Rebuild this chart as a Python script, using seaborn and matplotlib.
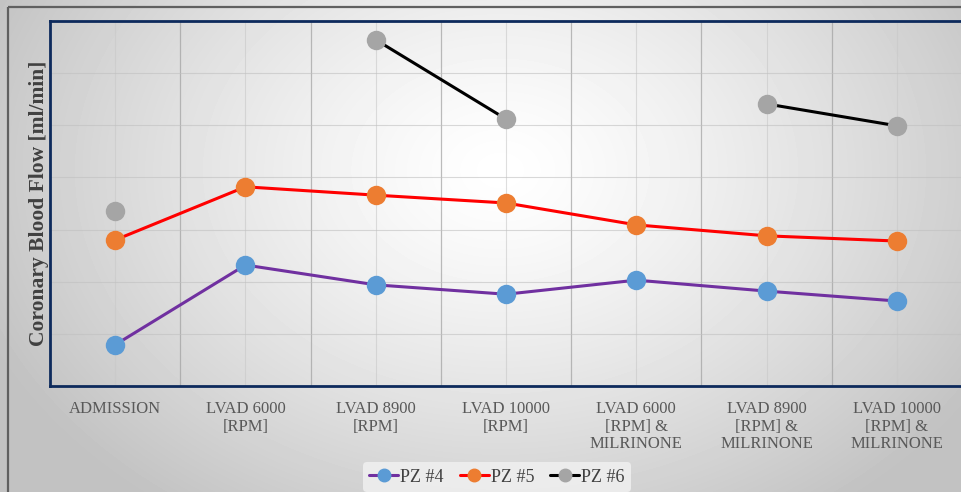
import numpy as np
import pandas as pd
import matplotlib
matplotlib.use("Agg")
import matplotlib.pyplot as plt
from matplotlib.patches import Rectangle
import seaborn as sns

# Measurement stages
categories = [
    "ADMISSION",
    "LVAD 6000\n[RPM]",
    "LVAD 8900\n[RPM]",
    "LVAD 10000\n[RPM]",
    "LVAD 6000\n[RPM] &\nMILRINONE",
    "LVAD 8900\n[RPM] &\nMILRINONE",
    "LVAD 10000\n[RPM] &\nMILRINONE",
]

# Coronary blood flow per patient (NaN = not measured)
pz4 = [7.9, 23.2, 19.4, 17.6, 20.3, 18.2, 16.3]
pz5 = [28.0, 38.2, 36.6, 35.1, 30.9, 28.8, 27.8]
pz6 = [33.6, np.nan, 66.4, 51.2, np.nan, 54.1, 49.9]

series_names = ["PZ #4", "PZ #5", "PZ #6"]
series_values = [pz4, pz5, pz6]
line_colors = ["#7030a0", "#ff0000", "#000000"]
marker_colors = ["#5b9bd5", "#ed7d31", "#a5a5a5"]

y_max = 70
y_step = 10

sns.set_theme(style="white")
plt.rcParams["font.family"] = ["Liberation Serif", "DejaVu Serif"]

W, H = 962, 492
fig = plt.figure(figsize=(W / 100, H / 100), dpi=100)

# Radial grey background behind everything
bg = fig.add_axes([0, 0, 1, 1], zorder=-10)
yy, xx = np.mgrid[0:H, 0:W]
cx, cy = 500, 170
r = np.sqrt(((xx - cx) / 560.0) ** 2 + ((yy - cy) / 420.0) ** 2)
shade = 1.0 - 0.24 * np.clip(r, 0, 1) ** 1.3
bg.imshow(shade, cmap="gray", vmin=0, vmax=1, aspect="auto",
          extent=[0, W, H, 0], interpolation="bilinear")
bg.set_xlim(0, W)
bg.set_ylim(H, 0)
bg.axis("off")
bg.add_patch(Rectangle((8, 7), W + 10, H + 10, fill=False,
                       edgecolor="#606060", linewidth=1.6))

# Plot area
ax = fig.add_axes([50 / W, 1 - 386 / H, (962 - 50) / W, (386 - 21) / H])
ax.set_facecolor("none")

rows = []
for name, vals in zip(series_names, series_values):
    seg = 0
    for i, v in enumerate(vals):
        if np.isnan(v):
            seg += 1
            continue
        rows.append({"stage": i, "flow": v, "series": name, "seg": seg})
df = pd.DataFrame(rows)

for name, lc, mc in zip(series_names, line_colors, marker_colors):
    sub = df[df["series"] == name]
    sns.lineplot(data=sub, x="stage", y="flow", units="seg", estimator=None,
                 color=lc, linewidth=2.2, marker="o", markersize=14,
                 markerfacecolor=mc, markeredgecolor=mc, markeredgewidth=0,
                 ax=ax, zorder=5, legend=False)

n = len(categories)
ax.set_xlim(-0.5, n - 0.5)
ax.set_ylim(0, y_max)
ax.set_yticks(np.arange(0, y_max + 1, y_step))
ax.set_yticklabels([])
ax.set_xticks(np.arange(n))
ax.set_xticklabels(categories, fontsize=12, color="#595959", linespacing=1.12)
ax.set_xticks(np.arange(n - 1) + 0.5, minor=True)
ax.tick_params(axis="both", which="both", length=0)
ax.tick_params(axis="x", pad=11)

ax.grid(True, axis="y", color="#c0c0c0", linewidth=0.8, alpha=0.6)
ax.grid(True, axis="x", which="major", color="#c8c8c8", linewidth=0.8, alpha=0.6)
ax.grid(True, axis="x", which="minor", color="#a0a0a0", linewidth=0.9, alpha=0.7)
ax.set_axisbelow(True)

for sp in ax.spines.values():
    sp.set_visible(True)
    sp.set_color("#0d2a5c")
    sp.set_linewidth(2.0)

ax.set_xlabel("")
ax.set_ylabel("Coronary Blood Flow [ml/min]", fontsize=15.5, fontweight="bold",
              color="#404040")
ax.yaxis.set_label_coords(-1 / 912, 0.5)

handles = [
    plt.Line2D([], [], color=lc, linewidth=2.2, marker="o", markersize=9,
               markerfacecolor=mc, markeredgecolor=mc)
    for lc, mc in zip(line_colors, marker_colors)
]
leg = fig.legend(handles, series_names, loc="center", ncol=3,
                 bbox_to_anchor=(497 / W, 1 - 477 / H), frameon=True,
                 fontsize=13, handlelength=1.6, handletextpad=0.1,
                 columnspacing=0.9, borderpad=0.35)
leg.get_frame().set_facecolor("#f2f2f2")
leg.get_frame().set_edgecolor("none")
leg.get_frame().set_alpha(0.8)
for t in leg.get_texts():
    t.set_color("#404040")

fig.savefig("out.png", dpi=100)
